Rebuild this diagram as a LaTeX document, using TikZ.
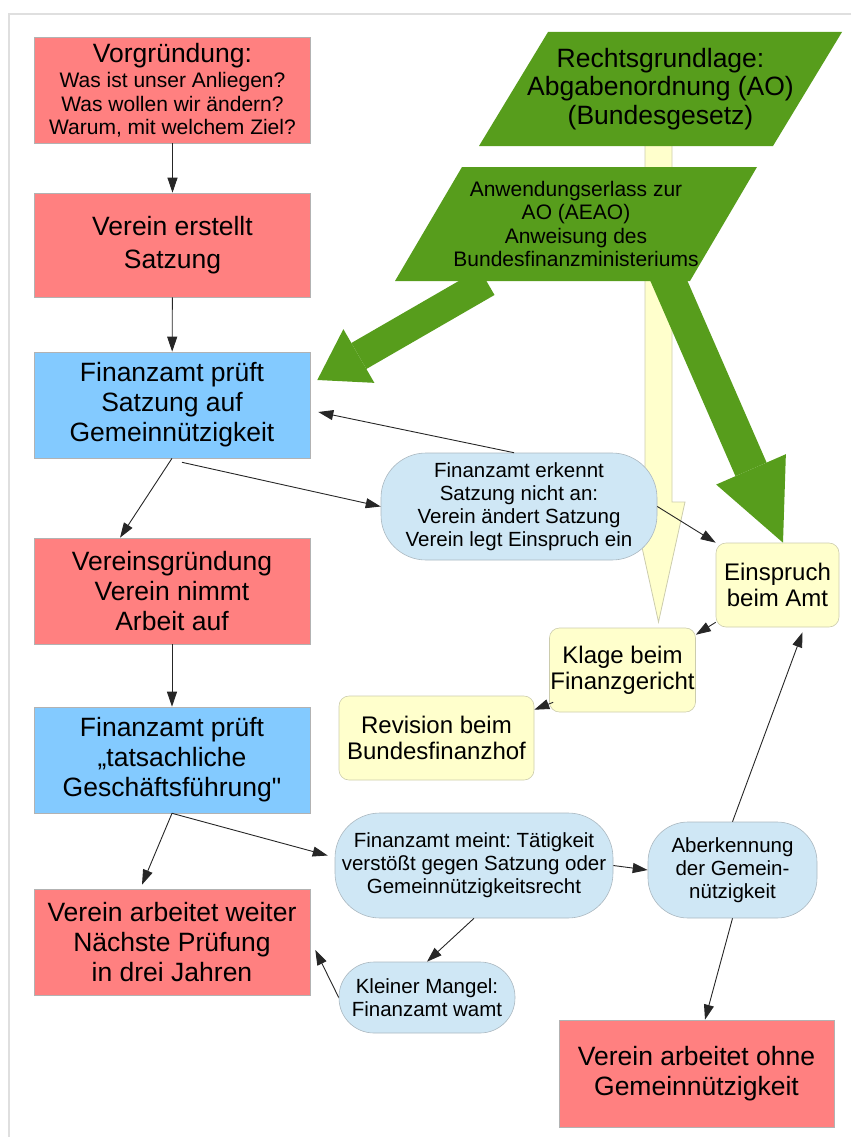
\documentclass[tikz,border=0pt]{standalone}
\usepackage{fontspec}
\setmainfont{Liberation Sans}
\usetikzlibrary{arrows.meta,backgrounds}
\frenchspacing

\definecolor{boxred}{HTML}{FF8080}
\definecolor{boxblue}{HTML}{83CAFF}
\definecolor{lawgreen}{HTML}{579D1C}
\definecolor{paleblue}{HTML}{CFE7F5}
\definecolor{paleyellow}{HTML}{FFFFCC}

\tikzset{
    box/.style={rectangle, draw=gray!60, line width=0.6pt, minimum width=276pt, minimum height=106pt,
        inner sep=1pt, align=center, font=\fontsize{26.5}{30}\selectfont},
    redbox/.style={box, fill=boxred},
    bluebox/.style={box, fill=boxblue},
    roundbox/.style={rectangle, rounded corners=45pt, fill=paleblue, draw=paleblue!55!gray, line width=0.6pt,
        inner sep=1pt, align=center, font=\fontsize{20.5}{23}\selectfont},
    courtbox/.style={rectangle, rounded corners=10pt, fill=paleyellow, draw=paleyellow!60!gray, line width=0.6pt,
        minimum height=84pt, inner sep=1pt, align=center, font=\fontsize{24}{26}\selectfont},
    lawtext/.style={align=center, inner sep=0pt},
    conn/.style={-{Triangle[length=15pt,width=10pt]}, line width=0.9pt, black!85},
    greenarrow/.style={lawgreen, line width=30pt, -{Triangle[length=48pt,width=62pt,line width=0pt]}},
    beam/.style={fill=paleyellow, draw=paleyellow!60!gray, line width=0.8pt},
    frame/.style={draw=gray!25, line width=2.5pt}
}

\begin{document}
\begin{tikzpicture}[x=1pt, y=-1pt]
        \useasboundingbox (0,0) rectangle (851,1137);
        \draw[frame] (851,14) -- (9,14) -- (9,1137);

        \node[redbox, font=\fontsize{21}{23.5}\selectfont] (vor) at (172.5,90)
            {{\fontsize{26.5}{28}\selectfont Vorgründung:}\\[2pt]Was ist unser Anliegen?\\Was wollen wir ändern?\\Warum, mit welchem Ziel?};
        \node[redbox, minimum height=104pt, font=\fontsize{26.5}{33}\selectfont] (satz) at (172.5,245) {Verein erstellt\\Satzung};
        \node[bluebox] (fa1) at (172,405) {Finanzamt prüft\\Satzung auf\\Gemeinnützigkeit};
        \node[redbox] (grund) at (172,591) {Vereinsgründung\\Verein nimmt\\Arbeit auf};
        \node[bluebox] (fa2) at (172,760) {Finanzamt prüft\\„tatsachliche\\Geschäftsführung\textquotedbl};
        \node[redbox] (weiter) at (172,942) {Verein arbeitet weiter\\Nächste Prüfung\\in drei Jahren};
        \node[redbox, minimum width=275pt, minimum height=107pt] (ohne) at (696.5,1073.5) {Verein arbeitet ohne\\Gemeinnützigkeit};

        \node[lawtext, font=\fontsize{26.5}{28.5}\selectfont] (recht) at (660.5,89) {Rechtsgrundlage:\\Abgabenordnung (AO)\\(Bundesgesetz)};
        \node[lawtext, font=\fontsize{21}{23.5}\selectfont] (anw) at (576,224) {Anwendungserlass zur\\AO (AEAO)\\Anweisung des\\Bundesfinanzministeriums};

        \node[roundbox, minimum width=276pt, minimum height=107pt] (erkennt) at (519,506.5)
            {Finanzamt erkennt\\Satzung nicht an:\\Verein ändert Satzung\\Verein legt Einspruch ein};
        \node[courtbox, minimum width=123pt] (einspruch) at (777.5,585) {Einspruch\\beim Amt};
        \node[courtbox, minimum width=145pt] (klage) at (622.5,670) {Klage beim\\Finanzgericht};
        \node[courtbox, minimum width=195pt] (revision) at (436.5,738) {Revision beim\\Bundesfinanzhof};
        \node[roundbox, minimum width=278pt, minimum height=105pt] (meint) at (474,865.5)
            {Finanzamt meint: Tätigkeit\\verstößt gegen Satzung oder\\Gemeinnützigkeitsrecht};
        \node[roundbox, minimum width=169pt, minimum height=96pt, rounded corners=40pt] (aberk) at (732.5,870) {Aberkennung\\der Gemein-\\nützigkeit};
        \node[roundbox, minimum width=176pt, minimum height=71pt, rounded corners=35pt] (mangel) at (427,997.5) {Kleiner Mangel:\\Finanzamt wamt};

        \draw[conn] (vor) -- (satz);
        \draw[conn] (satz) -- (fa1);
        \draw[conn] (fa1.south) -- ([xshift=-52pt]grund.north);
        \draw[conn] ([xshift=10pt,yshift=-4pt]fa1.south) -- (erkennt.west);
        \draw[conn] ([xshift=-5pt]erkennt.north) -- ([xshift=8pt,yshift=-7pt]fa1.east);
        \draw[conn] (erkennt.east) -- (einspruch.north west);
        \draw[conn] ([yshift=5pt]einspruch.south west) -- ([yshift=-7pt]klage.north east);
        \draw[conn] ([xshift=4pt,yshift=10pt]klage.south west) -- ([yshift=-14pt]revision.north east);
        \draw[conn] (grund) -- (fa2);
        \draw[conn] (fa2.south) -- ([xshift=-30pt,yshift=4pt]weiter.north);
        \draw[conn] (fa2.south) -- ([xshift=-7pt,yshift=10pt]meint.west);
        \draw[conn] (meint.east) -- (aberk.west);
        \draw[conn] (meint.south) -- (mangel.north);
        \draw[conn] (mangel.west) -- ([xshift=5pt,yshift=-8pt]weiter.east);
        \draw[conn] (aberk.north) -- ([xshift=25pt,yshift=-5pt]einspruch.south);
        \draw[conn] (aberk.south) -- ([xshift=8.5pt]ohne.north);

        \begin{pgfonlayer}{background}
            \draw[beam] ([shift={(-15.5,51)}]recht.center) -- ++(0,362) -- ++(-13,0) -- ++(26.5,120)
                -- ++(26.5,-120) -- ++(-13,0) -- ++(0,-362) -- cycle;
            \fill[lawgreen] ([shift={(-112.5,-57)}]recht.center) -- ++(294,0) -- ++(-69,114) -- ++(-294,0) -- cycle;
            \fill[lawgreen] ([shift={(-114,-57)}]anw.center) -- ++(295,0) -- ++(-67,114) -- ++(-295,0) -- cycle;
            \draw[greenarrow] ([shift={(-89,58)}]anw.center) -- ([shift={(7,-25)}]fa1.east);
            \draw[greenarrow, line width=34pt, -{Triangle[length=80pt,width=76pt,line width=0pt]}]
                ([shift={(89,48)}]anw.center) -- ([xshift=5.5pt]einspruch.north);
        \end{pgfonlayer}
\end{tikzpicture}
\end{document}
